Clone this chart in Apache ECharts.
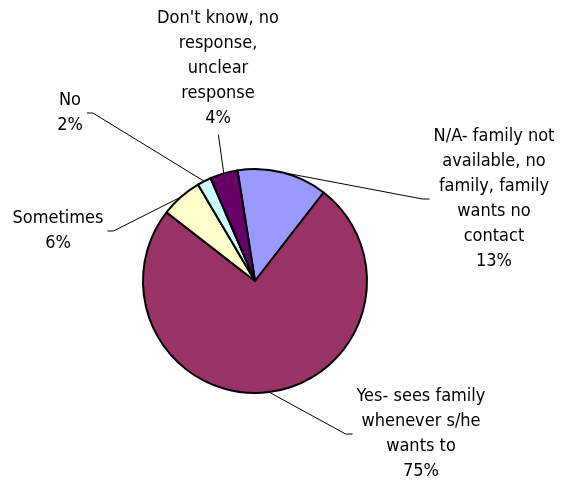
<!DOCTYPE html>
<html>
<head>
<meta charset="utf-8">
<script src="https://cdn.jsdelivr.net/npm/echarts@6/dist/echarts.min.js"></script>
<style>
  html, body { margin: 0; padding: 0; background: #fff; }
  #chart { width: 561px; height: 481px; }
</style>
</head>
<body>
<div id="chart"></div>
<script>
// Survey answers: does the resident see family when they want to?
const categories = [
  'N/A- family not\navailable, no\nfamily, family\nwants no\ncontact',
  'Yes- sees family\nwhenever s/he\nwants to',
  'Sometimes',
  'No',
  "Don't know, no\nresponse,\nunclear\nresponse"
];
const percents = [13, 75, 6, 2, 4];
const sliceColors = ['#9999FF', '#993366', '#FFFFCC', '#CCFFFF', '#660066'];

// Where each label block sits (its centre) and which side the leader line meets it.
const labelSpots = [
  { x: 494, y: 199, side: 'left' },
  { x: 421, y: 434, side: 'left' },
  { x: 58, y: 231, side: 'right' },
  { x: 70, y: 113, side: 'right' },
  { x: 218, y: 68, side: 'bottom' }
];

const chart = echarts.init(document.getElementById('chart'), null, { renderer: 'canvas' });

chart.setOption({
  animation: false,
  backgroundColor: '#ffffff',
  series: [{
    type: 'pie',
    center: [255, 281],
    radius: 112,
    startAngle: 99,
    clockwise: true,
    avoidLabelOverlap: false,
    itemStyle: { borderColor: '#000000', borderWidth: 2 },
    label: {
      show: true,
      position: 'outside',
      color: '#000000',
      fontFamily: 'DejaVu Sans Condensed, DejaVu Sans, sans-serif',
      fontSize: 18,
      lineHeight: 25,
      align: 'center',
      formatter: p => p.name + '\n' + p.value + '%'
    },
    labelLine: {
      show: true,
      smooth: false,
      lineStyle: { color: '#000000', width: 1 }
    },
    labelLayout: function (params) {
      const spot = labelSpots[params.dataIndex];
      const rect = params.labelRect;
      const start = params.labelLinePoints ? params.labelLinePoints[0] : [spot.x, spot.y];
      let near, hook;
      if (spot.side === 'left') {
        near = [spot.x - rect.width / 2 - 4, spot.y];
        hook = [near[0] - 7, spot.y];
      } else if (spot.side === 'right') {
        near = [spot.x + rect.width / 2 + 4, spot.y];
        hook = [near[0] + 6, spot.y];
      } else {
        near = [spot.x, spot.y + rect.height / 2 + 4];
        hook = [near[0] + 0.5, near[1] + 1];
      }
      return {
        x: spot.x,
        y: spot.y,
        align: 'center',
        verticalAlign: 'middle',
        labelLinePoints: [start, hook, near]
      };
    },
    data: categories.map((name, i) => ({
      name: name,
      value: percents[i],
      itemStyle: { color: sliceColors[i] }
    }))
  }]
});
</script>
</body>
</html>
